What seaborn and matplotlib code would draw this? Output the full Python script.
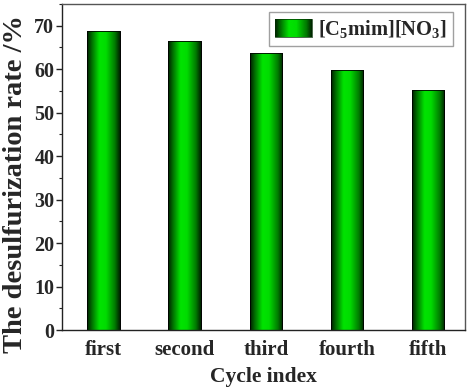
import numpy as np
import pandas as pd
import matplotlib
matplotlib.use("Agg")
import matplotlib.pyplot as plt
import seaborn as sns
from matplotlib.colors import LinearSegmentedColormap
from matplotlib.patches import Rectangle
from matplotlib.image import BboxImage
from matplotlib.transforms import Bbox, TransformedBbox
from matplotlib.legend_handler import HandlerPatch
from matplotlib.ticker import MultipleLocator

cycles = ["first", "second", "third", "fourth", "fifth"]
rates = [68.7, 66.4, 63.7, 59.9, 55.1]
series_name = "[C$_5$mim][NO$_3$]"

sns.set_theme(style="ticks")
plt.rcParams["font.family"] = ["Liberation Serif", "DejaVu Serif"]
plt.rcParams["font.weight"] = "bold"
plt.rcParams["mathtext.fontset"] = "custom"
plt.rcParams["mathtext.rm"] = "Liberation Serif:bold"
plt.rcParams["mathtext.it"] = "Liberation Serif:bold"
plt.rcParams["mathtext.bf"] = "Liberation Serif:bold"

df = pd.DataFrame({"cycle": cycles, "rate": rates, "series": series_name})

grad_cmap = LinearSegmentedColormap.from_list(
    "bargrad",
    [(0.0, "#001a00"), (0.12, "#006000"), (0.38, "#00e400"), (0.58, "#00dc00"),
     (0.85, "#007a00"), (1.0, "#002000")])
grad = np.linspace(0, 1, 256).reshape(1, -1)

fig = plt.figure(figsize=(4.73, 3.89), dpi=100)
ax = fig.add_axes([62 / 473, 1 - 330 / 389, 403 / 473, 326 / 389])

sns.barplot(data=df, x="cycle", y="rate", hue="series", ax=ax, width=0.40,
            palette=["#00d000"], edgecolor="black", linewidth=0.6, legend=False)

for p in list(ax.patches):
    x0, y0, w, h = p.get_x(), p.get_y(), p.get_width(), p.get_height()
    im = ax.imshow(grad, extent=[x0, x0 + w, y0, y0 + h], cmap=grad_cmap,
                   aspect="auto", interpolation="bicubic", zorder=p.get_zorder() + 0.1)
    im.set_clip_path(p)
    edge = Rectangle((x0, y0), w, h, facecolor="none", edgecolor="black",
                     linewidth=0.6, zorder=p.get_zorder() + 0.2)
    ax.add_patch(edge)

ax.set_xlim(-0.512, 4.456)
ax.set_ylim(0, 75)
ax.yaxis.set_major_locator(MultipleLocator(10))
ax.yaxis.set_minor_locator(MultipleLocator(5))
ax.tick_params(axis="y", which="major", direction="out", length=4, width=1,
               labelsize=14.5, pad=1.5, color="#222222")
ax.tick_params(axis="y", which="minor", direction="out", length=2.2, width=0.8,
               color="#222222")
ax.tick_params(axis="x", length=0, labelsize=15, pad=7)
for lab in ax.get_xticklabels() + ax.get_yticklabels():
    lab.set_fontweight("bold")

ax.set_xlabel("Cycle index", fontsize=15.5, fontweight="bold", labelpad=5)
ax.set_ylabel("The desulfurization rate /%", fontsize=20.5, fontweight="bold")
ax.yaxis.set_label_coords(-0.085, 0.449)

for side in ["top", "right"]:
    ax.spines[side].set_visible(True)
    ax.spines[side].set_color("#555555")
    ax.spines[side].set_linewidth(1.0)
for side in ["left", "bottom"]:
    ax.spines[side].set_color("#222222")
    ax.spines[side].set_linewidth(1.0)


class GradHandler(HandlerPatch):
    def create_artists(self, legend, orig_handle, xdescent, ydescent, width,
                       height, fontsize, trans):
        bb = TransformedBbox(Bbox.from_bounds(-xdescent, -ydescent, width, height), trans)
        img = BboxImage(bb, cmap=grad_cmap, interpolation="bicubic")
        img.set_data(grad)
        rect = Rectangle((-xdescent, -ydescent), width, height, facecolor="none",
                         edgecolor="#003000", linewidth=0.5, transform=trans)
        return [img, rect]


handle = Rectangle((0, 0), 1, 1, facecolor="#00d000")
leg = ax.legend([handle], [series_name], loc="upper right",
                bbox_to_anchor=(0.970, 0.976), borderaxespad=0,
                handler_map={Rectangle: GradHandler()},
                prop={"family": "Liberation Serif", "weight": "bold", "size": 14.8},
                frameon=True, fancybox=False, edgecolor="#888888",
                handlelength=1.8, handleheight=0.95, handletextpad=0.3,
                borderpad=0.3)
leg.get_frame().set_linewidth(1.0)

fig.savefig("out.png", dpi=100)
